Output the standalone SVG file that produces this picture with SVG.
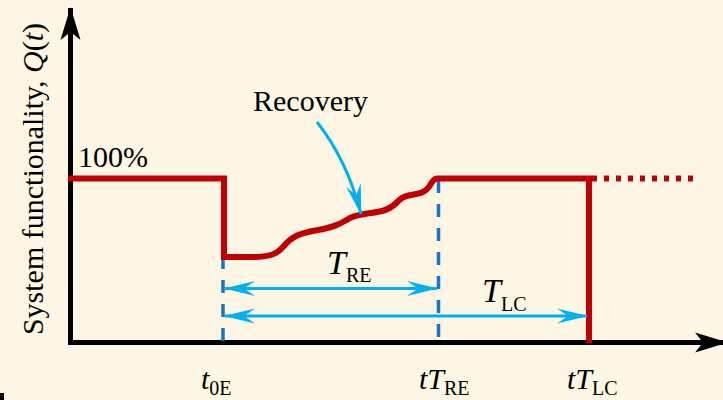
<svg xmlns="http://www.w3.org/2000/svg" width="723" height="400" viewBox="0 0 723 400">
<defs>
<style>
.txt{font-family:"Liberation Serif","Times New Roman",serif;fill:#000}
.it{font-style:italic}
.red{fill:none;stroke:#c00000;stroke-width:6}
.blue{fill:none;stroke:#1a75c4;stroke-width:3.5;stroke-dasharray:13 11}
.cyan{fill:none;stroke:#00b0f0;stroke-width:3}
.axis{fill:none;stroke:#000;stroke-width:5}
</style>
<marker id="ca" viewBox="-32 -9 34 18" refX="0" refY="0" markerWidth="34" markerHeight="18" markerUnits="userSpaceOnUse" orient="auto-start-reverse">
<path d="M1,0 L-30,-7.5 L-19,0 L-30,7.5 Z" fill="#00b0f0"/>
</marker>
<marker id="ka" viewBox="-34 -12 36 24" refX="0" refY="0" markerWidth="36" markerHeight="24" markerUnits="userSpaceOnUse" orient="auto">
<path d="M1,0 L-32,-10 L-24,0 L-32,10 Z" fill="#000"/>
</marker>
</defs>
<rect width="723" height="400" fill="#fdf6e4"/>
<rect x="0" y="393" width="4" height="7" fill="#000"/>

<g id="connectors">
<line id="y-axis" class="axis" x1="70.5" y1="345" x2="70.5" y2="8" marker-end="url(#ka)"/>
<line id="x-axis" class="axis" x1="68" y1="342.5" x2="727" y2="342.5" marker-end="url(#ka)"/>
<line class="blue" x1="223" y1="256" x2="223" y2="341"/>
<line class="blue" x1="438.5" y1="180" x2="438.5" y2="341"/>
<path id="functionality" class="red" d="M68,178.5 L224,178.5 L224,257 L252,257 C268,257 276,255 283,247 C292,236 300,233 318,230 C334,227 340,224 350,218 C360,213 370,214 382,211 C394,208 396,202 402,198 C410,193 422,196 428,188 C432,183 433,178.5 437,178.5 L589,178.5 L589,343"/>
<line class="red" x1="592" y1="178.5" x2="698" y2="178.5" stroke-width="5" stroke-dasharray="5 7"/>
<line id="t-re-arrow" class="cyan" x1="225" y1="288.5" x2="437" y2="288.5" marker-start="url(#ca)" marker-end="url(#ca)"/>
<line id="t-lc-arrow" class="cyan" x1="225" y1="316" x2="587" y2="316" marker-start="url(#ca)" marker-end="url(#ca)"/>
<path id="recovery-arrow" class="cyan" d="M317,122 Q347,160 361,214" marker-end="url(#ca)"/>
</g>

<g id="y-label">
<text class="txt" font-size="30" text-anchor="middle" transform="translate(43,179) rotate(-90)">System functionality, <tspan class="it">Q</tspan>(<tspan class="it">t</tspan>)</text>
</g>
<g id="label-100">
<text class="txt" x="78" y="167" font-size="30">100%</text>
</g>
<g id="label-recovery">
<text class="txt" x="253" y="111" font-size="30">Recovery</text>
</g>
<g id="label-tre">
<text class="txt" x="327" y="274" font-size="34"><tspan class="it">T</tspan><tspan font-size="20" dy="8">RE</tspan></text>
</g>
<g id="label-tlc">
<text class="txt" x="482" y="302" font-size="34"><tspan class="it">T</tspan><tspan font-size="20" dy="9">LC</tspan></text>
</g>
<g id="tick-t0e">
<text class="txt" x="201" y="389" font-size="30"><tspan class="it">t</tspan><tspan font-size="20" dy="6">0E</tspan></text>
</g>
<g id="tick-tre">
<text class="txt" x="419" y="389" font-size="30"><tspan class="it">tT</tspan><tspan font-size="20" dy="6">RE</tspan></text>
</g>
<g id="tick-tlc">
<text class="txt" x="567" y="389" font-size="30"><tspan class="it">tT</tspan><tspan font-size="20" dy="6">LC</tspan></text>
</g>
</svg>
